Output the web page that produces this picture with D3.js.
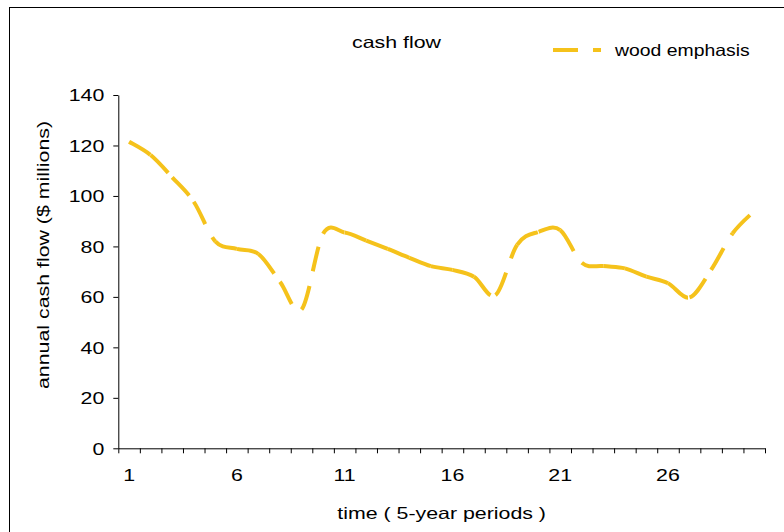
<!DOCTYPE html>
<html><head><meta charset="utf-8">
<script src="https://cdn.jsdelivr.net/npm/d3@7"></script>
<style>
html,body{margin:0;padding:0;background:#fff;}
svg{display:block;}
text{font-family:"Liberation Sans",Arial,sans-serif;fill:#000;}
</style></head>
<body>
<svg id="chart" width="784" height="532"></svg>
<script>
// ---- data ----
const categories = ["1","2","3","4","5","6","7","8","9","10","11","12","13","14","15",
                    "16","17","18","19","20","21","22","23","24","25","26","27","28","29","30"];
const xTickLabels = ["1","6","11","16","21","26"];
const woodEmphasis = [121.5, 116.2, 107.4, 97.7, 82, 79, 77, 66, 55, 85,
                      85.5, 82.3, 79, 75.5, 72.2, 70.7, 68, 60.7, 80.6, 85.8,
                      86.5, 73.5, 72.2, 71.3, 68, 65.4, 59.8, 70.7, 85.2, 94];
const yTicks = [0, 20, 40, 60, 80, 100, 120, 140];
const seriesName = "wood emphasis";
const chartTitle = "cash flow";
const xTitle = "time ( 5-year periods )";
const yTitle = "annual cash flow ($ millions)";

// ---- layout ----
const SX = 1.31, FS = 16.3;
const lineColor = "#F5C21B";
const plot = {left:118.3, right:765, top:95, bottom:448.3};
const svg = d3.select("#chart");

svg.append("rect").attr("x",9.5).attr("y",7.5).attr("width",900).attr("height",700)
  .attr("fill","none").attr("stroke","#000").attr("stroke-width",1);

const x = d3.scaleBand().domain(categories).range([plot.left, plot.right]).padding(0);
const xb = d3.scaleLinear().domain([0, categories.length]).range([plot.left, plot.right]);
const y = d3.scaleLinear().domain([0,140]).range([plot.bottom, plot.top]);

function stretch(sel, sx){
  sx = sx || SX;
  sel.each(function(){
    const t = d3.select(this);
    const tx = +t.attr("x")||0, ty = +t.attr("y")||0;
    const rot = t.attr("data-rot") || 0;
    t.attr("x",0).attr("y",0)
     .attr("transform",`translate(${tx},${ty}) rotate(${rot}) scale(${sx},1)`);
  });
}

// y axis
const gy = svg.append("g").attr("transform",`translate(${plot.left},0)`)
  .call(d3.axisLeft(y).tickValues(yTicks).tickSize(5).tickPadding(9).tickSizeOuter(0));
gy.select(".domain").attr("stroke","#000");
gy.selectAll(".tick line").attr("stroke","#000");
gy.selectAll("text").attr("font-size",FS).attr("dy","0.36em").attr("fill","#000").attr("font-family",null);
stretch(gy.selectAll("text"));

// x axis tick marks at category boundaries
const gxTicks = svg.append("g").attr("transform",`translate(0,${plot.bottom})`)
  .call(d3.axisBottom(xb).tickValues(d3.range(0, categories.length+1)).tickSize(5).tickSizeOuter(0).tickFormat(""));
gxTicks.select(".domain").attr("stroke","#000");
gxTicks.selectAll(".tick line").attr("stroke","#000");

// x labels
const gx = svg.append("g").attr("transform",`translate(0,${plot.bottom})`)
  .call(d3.axisBottom(x).tickValues(xTickLabels).tickSize(0));
gx.select(".domain").remove();
gx.selectAll("text").attr("font-size",FS).attr("y",33).attr("dy",0).attr("fill","#000").attr("font-family",null);
stretch(gx.selectAll("text"));

// line, drawn per segment (dash pattern restarts at each data point)
const pts = woodEmphasis.map((v,i)=>[x(categories[i]) + x.bandwidth()/2, y(v)]);
const n = pts.length;
const lg = svg.append("g");
for (let i=0;i<n-1;i++){
  const p0 = pts[Math.max(i-1,0)], p1 = pts[i], p2 = pts[i+1], p3 = pts[Math.min(i+2,n-1)];
  const c1 = [p1[0] + (p2[0]-p0[0])/6, p1[1] + (p2[1]-p0[1])/6];
  const c2 = [p2[0] - (p3[0]-p1[0])/6, p2[1] - (p3[1]-p1[1])/6];
  const p = d3.path();
  p.moveTo(p1[0],p1[1]);
  p.bezierCurveTo(c1[0],c1[1],c2[0],c2[1],p2[0],p2[1]);
  lg.append("path").attr("d",p.toString()).attr("fill","none")
    .attr("stroke",lineColor).attr("stroke-width",4).attr("stroke-dasharray","25,15")
    .attr("stroke-linecap","butt");
}

// title
const tt = svg.append("text").attr("x",396.5).attr("y",48).attr("text-anchor","middle")
  .attr("font-size",FS).text(chartTitle);
stretch(tt);

// legend
svg.append("line").attr("x1",553).attr("x2",601).attr("y1",50).attr("y2",50)
  .attr("stroke",lineColor).attr("stroke-width",4).attr("stroke-dasharray","25,15");
const lt = svg.append("text").attr("x",615).attr("y",56).attr("font-size",FS).text(seriesName);
stretch(lt, 1.19);

// axis titles
const xt = svg.append("text").attr("x",441.6).attr("y",519).attr("text-anchor","middle")
  .attr("font-size",FS).text(xTitle);
stretch(xt);
const yt = svg.append("text").attr("x",48.5).attr("y",255).attr("data-rot",-90)
  .attr("text-anchor","middle").attr("font-size",FS).text(yTitle);
stretch(yt);
</script>
</body></html>
